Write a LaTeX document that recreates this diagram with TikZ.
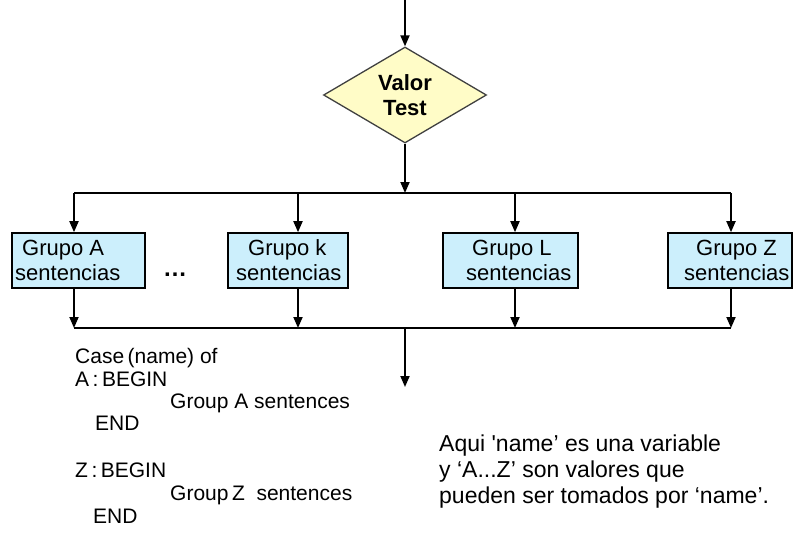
\documentclass[tikz,border=0pt]{standalone}
\usepackage{fontspec}
\setmainfont{Liberation Sans}
\usetikzlibrary{arrows.meta,shapes.geometric}

\tikzset{
  flow/.style={line width=1.8pt, draw=black},
  arr/.style={flow, -{Triangle[length=11pt,width=9pt]}},
  decision/.style={diamond, draw=black!75, line width=1.3pt, fill=yellow!22!white,
    minimum width=163pt, minimum height=96pt, inner sep=0pt, aspect=1.7,
    align=center, font=\fontsize{22}{25}\selectfont\bfseries},
  groupbox/.style={rectangle, draw=black, line width=1.6pt, fill=cyan!20!white,
    minimum height=55pt, inner sep=0pt},
  boxtext/.style={anchor=base west, inner sep=0pt, font=\fontsize{22}{26}\selectfont},
  codetext/.style={anchor=base west, inner sep=0pt, font=\fontsize{21}{24}\selectfont},
  notetext/.style={anchor=base west, inner sep=0pt, font=\fontsize{23}{26}\selectfont},
}

\begin{document}
\begin{tikzpicture}[x=1pt, y=-1pt]
  \path[use as bounding box] (0,0) rectangle (793,543);

  % decision
  \coordinate (entry) at (405,0);
  \node[decision] (test) at (405,95) {Valor\\Test};
  \draw[arr] (entry) -- (test.north);

  % split bus
  \coordinate (split) at (405,193);
  \draw[arr] (test.south) -- (split);
  \coordinate (sA) at (74,193);
  \coordinate (sk) at (298,193);
  \coordinate (sL) at (515,193);
  \coordinate (sZ) at (731,193);
  \draw[flow] (sA) -- (sZ);

  % group boxes
  \node[groupbox, minimum width=133pt] (bA) at (78.5,260.5) {};
  \node[groupbox, minimum width=120pt] (bk) at (288,260.5) {};
  \node[groupbox, minimum width=135pt] (bL) at (510.5,260.5) {};
  \node[groupbox, minimum width=124pt] (bZ) at (730,260.5) {};

  \node[boxtext] (tA1) at (22,255) {Grupo A};
  \node[boxtext] (tA2) at (15,280) {sentencias};
  \node[boxtext] (tk1) at (248,255) {Grupo k};
  \node[boxtext] (tk2) at (236,280) {sentencias};
  \node[boxtext] (tL1) at (472,255) {Grupo L};
  \node[boxtext] (tL2) at (466,280) {sentencias};
  \node[boxtext] (tZ1) at (696,255) {Grupo Z};
  \node[boxtext] (tZ2) at (684,280) {sentencias};

  \node[inner sep=0pt, font=\fontsize{24}{24}\selectfont\bfseries] (dots) at (175,275) {…};

  \draw[arr] (sA) -- (sA |- bA.north);
  \draw[arr] (sk) -- (sk |- bk.north);
  \draw[arr] (sL) -- (sL |- bL.north);
  \draw[arr] (sZ) -- (sZ |- bZ.north);

  % join bus
  \coordinate (jA) at (74,328);
  \coordinate (jk) at (298,328);
  \coordinate (jL) at (515,328);
  \coordinate (jZ) at (731,328);
  \coordinate (join) at (405,328);
  \coordinate (exit) at (405,387);
  \draw[arr] (bA.south -| jA) -- (jA);
  \draw[arr] (bk.south -| jk) -- (jk);
  \draw[arr] (bL.south -| jL) -- (jL);
  \draw[arr] (bZ.south -| jZ) -- (jZ);
  \draw[flow] (jA) -- (jZ);
  \draw[arr] (join) -- (exit);

  % case statement
  \node[codetext] (c1) at (75,363) {Case\,(name) of};
  \node[codetext] (c2) at (75,386) {A\,:\,BEGIN};
  \node[codetext] (c3) at (170,408) {Group A sentences};
  \node[codetext] (c4) at (95,430) {END};
  \node[codetext] (c5) at (75,477) {Z\,:\,BEGIN};
  \node[codetext] (c6) at (170,500) {Group\,Z\ \ sentences};
  \node[codetext] (c7) at (93,523) {END};

  % note
  \node[notetext] (n1) at (439,451) {Aqui \textquotesingle name’ es una variable};
  \node[notetext] (n2) at (439,477) {y ‘A...Z’ son valores que};
  \node[notetext] (n3) at (439,503) {pueden ser tomados por ‘name’.};
\end{tikzpicture}
\end{document}
